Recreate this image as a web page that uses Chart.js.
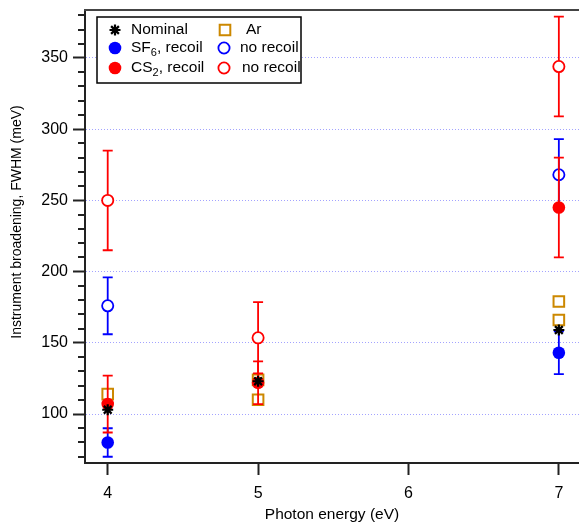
<!DOCTYPE html>
<html>
<head>
<meta charset="utf-8">
<script src="https://cdn.jsdelivr.net/npm/chart.js@4.4.1/dist/chart.umd.min.js"></script>
<style>
  html, body { margin: 0; padding: 0; background: #fff; }
</style>
</head>
<body>
<canvas id="chart" width="579" height="522"></canvas>
<script>
// Data (photon energy in eV, FWHM in meV)
const nominalX = [4, 5, 7];
const nominalY = [103, 123, 159];

const arX = [4, 5, 5, 7, 7];
const arY = [114, 124, 110, 179, 166];

const sf6RecoilX = [4, 7];
const sf6RecoilY = [80, 143];
const sf6RecoilErr = [10, 15];

const sf6NoRecoilX = [4, 7];
const sf6NoRecoilY = [176, 268];
const sf6NoRecoilErr = [20, 25];

const cs2RecoilX = [4, 5, 7];
const cs2RecoilY = [107, 122, 245];
const cs2RecoilErr = [20, 15, 35];

const cs2NoRecoilX = [4, 5, 7];
const cs2NoRecoilY = [250, 153.5, 344];
const cs2NoRecoilErr = [35, 25, 35];

const xTickValues = [4, 5, 6, 7];
const yTickValues = [];
for (let v = 70; v <= 380; v += 10) yTickValues.push(v);

const FONT = "'Liberation Sans', Arial, sans-serif";
const axisColor = '#222';
const gridColor = 'rgba(140,140,255,0.8)';
const blue = '#0000ff';
const red = '#ff0000';
const orange = '#cc8800';

const pts = (xs, ys) => xs.map((x, i) => ({ x, y: ys[i] }));

// dataset 0 is drawn on top, the last one at the bottom
const datasets = [
  { label: 'Nominal', data: pts(nominalX, nominalY), pointStyle: 'star', pointRadius: 5.5,
    borderColor: '#000', backgroundColor: '#000', pointBorderWidth: 2.2 },
  { label: 'CS2, recoil', data: pts(cs2RecoilX, cs2RecoilY), errors: cs2RecoilErr, pointStyle: 'circle', pointRadius: 6.3,
    borderColor: red, backgroundColor: red, pointBorderWidth: 0 },
  { label: 'CS2, no recoil', data: pts(cs2NoRecoilX, cs2NoRecoilY), errors: cs2NoRecoilErr, pointStyle: 'circle', pointRadius: 5.6,
    borderColor: red, backgroundColor: '#fff', pointBorderWidth: 1.8 },
  { label: 'SF6, recoil', data: pts(sf6RecoilX, sf6RecoilY), errors: sf6RecoilErr, pointStyle: 'circle', pointRadius: 6.3,
    borderColor: blue, backgroundColor: blue, pointBorderWidth: 0 },
  { label: 'SF6, no recoil', data: pts(sf6NoRecoilX, sf6NoRecoilY), errors: sf6NoRecoilErr, pointStyle: 'circle', pointRadius: 5.6,
    borderColor: blue, backgroundColor: '#fff', pointBorderWidth: 1.8 },
  { label: 'Ar', data: pts(arX, arY), pointStyle: 'rect', pointRadius: 7.5,
    borderColor: orange, backgroundColor: 'rgba(0,0,0,0)', pointBorderWidth: 2 }
];
datasets.forEach(d => { d.showLine = false; d.pointHoverRadius = d.pointRadius; });

// error bars, drawn just before each dataset's markers
const errorBars = {
  id: 'errorBars',
  beforeDatasetDraw(chart, args) {
    const ds = chart.data.datasets[args.index];
    if (!ds.errors) return;
    const { ctx, scales: { x, y } } = chart;
    ctx.save();
    ctx.strokeStyle = ds.borderColor;
    ctx.lineWidth = 1.8;
    ds.data.forEach((p, i) => {
      const px = x.getPixelForValue(p.x);
      const top = y.getPixelForValue(p.y + ds.errors[i]);
      const bot = y.getPixelForValue(p.y - ds.errors[i]);
      ctx.beginPath();
      ctx.moveTo(px, top); ctx.lineTo(px, bot);
      ctx.moveTo(px - 5, top); ctx.lineTo(px + 5, top);
      ctx.moveTo(px - 5, bot); ctx.lineTo(px + 5, bot);
      ctx.stroke();
    });
    ctx.restore();
  }
};

// frame, minor ticks, y title and the legend box
const extras = {
  id: 'extras',
  afterDraw(chart) {
    const { ctx, chartArea: a, scales: { y } } = chart;
    ctx.save();
    // top frame line
    ctx.strokeStyle = '#444';
    ctx.lineWidth = 2;
    ctx.beginPath();
    ctx.moveTo(a.left - 1, a.top); ctx.lineTo(a.right, a.top);
    ctx.stroke();
    // minor ticks
    ctx.strokeStyle = axisColor;
    ctx.beginPath();
    yTickValues.filter(v => v % 50 !== 0).forEach(v => {
      const py = Math.round(y.getPixelForValue(v));
      ctx.moveTo(a.left - 7, py); ctx.lineTo(a.left, py);
    });
    ctx.stroke();

    // y title
    ctx.save();
    ctx.translate(17, 222);
    ctx.rotate(-Math.PI / 2);
    ctx.fillStyle = '#000';
    ctx.font = '14px ' + FONT;
    ctx.textAlign = 'center';
    ctx.textBaseline = 'middle';
    ctx.fillText('Instrument broadening, FWHM (meV)', 0, 0);
    ctx.restore();

    // legend
    ctx.fillStyle = '#fff';
    ctx.fillRect(97, 17, 204, 66);
    ctx.strokeStyle = '#000';
    ctx.lineWidth = 1.5;
    ctx.strokeRect(97, 17, 204, 66);

    const ds = chart.data.datasets;
    const items = [
      { d: ds[0], mx: 115, tx: 131, ty: 30, parts: [['Nominal']] },
      { d: ds[3], mx: 115, tx: 131, ty: 48, parts: [['SF'], ['6', 1], [', recoil']] },
      { d: ds[1], mx: 115, tx: 131, ty: 68, parts: [['CS'], ['2', 1], [', recoil']] },
      { d: ds[5], mx: 225, tx: 246, ty: 30, parts: [['Ar']] },
      { d: ds[4], mx: 224, tx: 240, ty: 48, parts: [['no recoil']] },
      { d: ds[2], mx: 224, tx: 242, ty: 68, parts: [['no recoil']] }
    ];
    items.forEach(it => {
      ctx.fillStyle = it.d.backgroundColor;
      ctx.strokeStyle = it.d.borderColor;
      ctx.lineWidth = it.d.pointBorderWidth;
      Chart.helpers.drawPoint(ctx, {
        pointStyle: it.d.pointStyle, radius: it.d.pointRadius,
        borderWidth: it.d.pointBorderWidth, rotation: 0
      }, it.mx, it.ty);
      ctx.fillStyle = '#000';
      ctx.textAlign = 'left';
      ctx.textBaseline = 'middle';
      let tx = it.tx;
      it.parts.forEach(([s, sub]) => {
        ctx.font = (sub ? '11px ' : '15.5px ') + FONT;
        ctx.fillText(s, tx, it.ty + (sub ? 5 : 0));
        tx += ctx.measureText(s).width;
      });
    });
    ctx.restore();
  }
};

new Chart(document.getElementById('chart'), {
  type: 'scatter',
  data: { datasets },
  options: {
    responsive: false,
    animation: false,
    events: [],
    layout: { autoPadding: false, padding: { top: 10, right: 0, bottom: 0, left: 0 } },
    plugins: { legend: { display: false }, tooltip: { enabled: false } },
    scales: {
      x: {
        type: 'linear',
        min: 3.849,
        max: 7.134,
        afterBuildTicks: s => { s.ticks = xTickValues.map(v => ({ value: v })); },
        afterFit: s => { s.height = 59; },
        grid: { drawOnChartArea: false, tickLength: 12, tickColor: axisColor, tickWidth: 2 },
        border: { color: axisColor, width: 2 },
        ticks: { font: { family: FONT, size: 16 }, color: '#000', padding: 9, autoSkip: false, maxRotation: 0 },
        title: { display: true, text: 'Photon energy (eV)', color: '#000',
          font: { family: FONT, size: 15.5, lineHeight: 1 }, padding: { top: 0, bottom: 0 } }
      },
      y: {
        type: 'linear',
        min: 65.6,
        max: 383.7,
        afterBuildTicks: s => { s.ticks = yTickValues.map(v => ({ value: v })); },
        afterFit: s => { s.width = 85; },
        grid: {
          color: c => (c.tick && c.tick.value % 50 === 0) ? gridColor : 'rgba(0,0,0,0)',
          lineWidth: 1,
          tickLength: 12,
          tickWidth: 2,
          tickColor: c => (c.tick && c.tick.value % 50 === 0) ? axisColor : 'rgba(0,0,0,0)'
        },
        border: { color: axisColor, width: 2, dash: [1, 2] },
        ticks: {
          font: { family: FONT, size: 16, lineHeight: 0.5 }, color: '#000', padding: 5, autoSkip: false,
          callback: v => (v % 50 === 0 ? String(v) : '')
        }
      }
    }
  },
  plugins: [errorBars, extras]
});
</script>
</body>
</html>
